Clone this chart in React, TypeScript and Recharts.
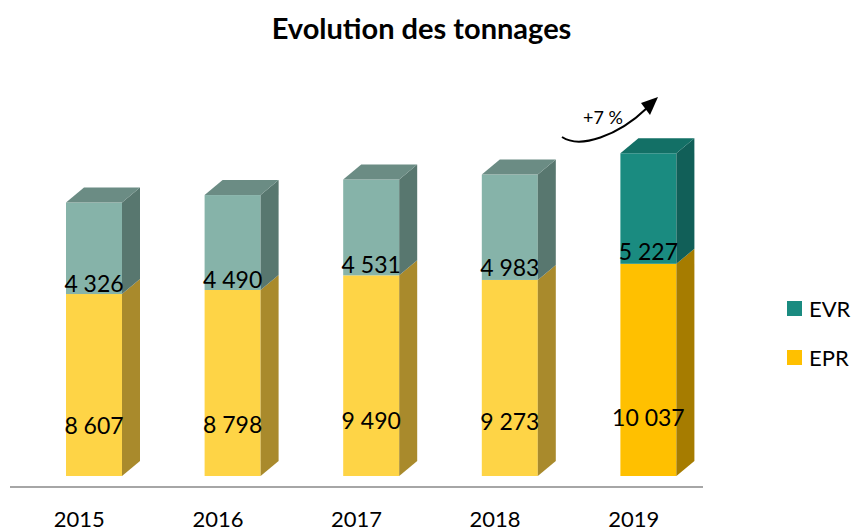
import { BarChart, Bar, XAxis, YAxis, LabelList, Customized } from 'recharts';

const years = ['2015', '2016', '2017', '2018', '2019'];
const epr = [8607, 8798, 9490, 9273, 10037];
const evr = [4326, 4490, 4531, 4983, 5227];

const data = years.map((year, i) => ({ year, EPR: epr[i], EVR: evr[i] }));

const FONT = 'Lato, "Open Sans", sans-serif';
const DX = 18;
const DY = 15;
const SHIFT = 15;

// front / side / top, normal bars vs 2019
const evrColors = {
  normal: ['#86b3a9', '#58776f', '#6b8c84'],
  last: ['#1a8b80', '#115f58', '#137066'],
};
const eprColors = {
  normal: ['#fed446', '#a98a2c', '#c9a43a'],
  last: ['#ffc000', '#a67c00', '#c99a00'],
};

const fmt = (v: number) => String(v).replace(/\B(?=(\d{3})+(?!\d))/g, ' ');

function makeShape(colors: { normal: string[]; last: string[] }, withTop: boolean) {
  return (props: any) => {
    const { x, y, width, height, index } = props;
    const [front, side, top] = index === years.length - 1 ? colors.last : colors.normal;
    const fx = x + SHIFT;
    const r = fx + width;
    return (
      <g>
        <rect x={fx} y={y} width={width} height={height} fill={front} />
        <polygon
          points={`${r},${y + height} ${r},${y} ${r + DX},${y - DY} ${r + DX},${y + height - DY}`}
          fill={side}
        />
        {withTop && (
          <polygon points={`${fx},${y} ${fx + DX},${y - DY} ${r + DX},${y - DY} ${r},${y}`} fill={top} />
        )}
      </g>
    );
  };
}

function makeLabel(frac: number) {
  return (props: any) => {
    const { x, y, width, height, value } = props;
    return (
      <text
        x={x + SHIFT + width / 2}
        y={y + height * frac}
        textAnchor="middle"
        dominantBaseline="central"
        fontFamily={FONT}
        fontSize={23}
        fill="#000"
      >
        {fmt(value)}
      </text>
    );
  };
}

const YearTick = (props: any) => {
  const { x, y, payload } = props;
  return (
    <text x={x} y={y + 23} textAnchor="middle" dominantBaseline="central" fontFamily={FONT} fontSize={22} fill="#000">
      {payload.value}
    </text>
  );
};

const legendItems = [
  { name: 'EVR', color: '#1a8b80' },
  { name: 'EPR', color: '#ffc000' },
];

const Growth = () => (
  <g>
    <path d="M562,137 C580,149 618,136 647,108" fill="none" stroke="#000" strokeWidth={2} />
    <polygon points="658,97 641,103 650,115" fill="#000" />
    <text x={603} y={117} textAnchor="middle" dominantBaseline="central" fontFamily={FONT} fontSize={18} fill="#000">
      +7 %
    </text>
  </g>
);

export default function App() {
  return (
    <div style={{ position: 'absolute', left: 0, top: 0, width: 851, height: 532, background: '#fff' }}>
      <div
        style={{
          position: 'absolute',
          top: 10,
          left: 0,
          width: 843,
          textAlign: 'center',
          fontFamily: FONT,
          fontWeight: 'bold',
          fontSize: 29,
          color: '#000',
          zIndex: 1,
        }}
      >
        Evolution des tonnages
      </div>
      <div style={{ position: 'absolute', left: 787, top: 284, fontFamily: FONT, fontSize: 22, color: '#000', zIndex: 1 }}>
        {legendItems.map((it) => (
          <div key={it.name} style={{ display: 'flex', alignItems: 'center', height: 49 }}>
            <span style={{ width: 15, height: 15, background: it.color, marginRight: 7, display: 'inline-block' }} />
            {it.name}
          </div>
        ))}
      </div>
      <BarChart width={851} height={532} data={data} margin={{ top: 106, right: 148, bottom: 0, left: 10 }}>
        <XAxis
          dataKey="year"
          height={45}
          axisLine={{ stroke: '#a6a6a6', strokeWidth: 2 }}
          tickLine={false}
          tick={<YearTick />}
        />
        <YAxis hide domain={[-520, 17500]} />
        <Bar dataKey="EPR" stackId="a" barSize={56} shape={makeShape(eprColors, false)} isAnimationActive={false}>
          <LabelList dataKey="EPR" content={makeLabel(0.72)} />
        </Bar>
        <Bar dataKey="EVR" stackId="a" barSize={56} shape={makeShape(evrColors, true)} isAnimationActive={false}>
          <LabelList dataKey="EVR" content={makeLabel(0.88)} />
        </Bar>
        <Customized component={Growth} />
      </BarChart>
    </div>
  );
}
